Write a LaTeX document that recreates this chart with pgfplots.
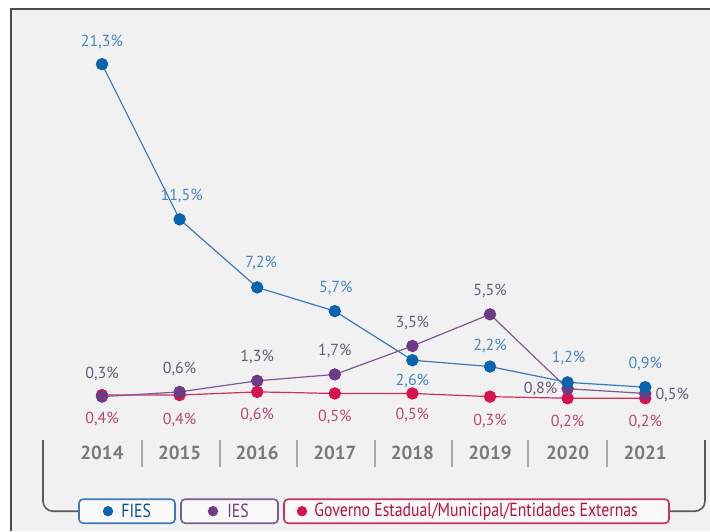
\documentclass[border=0pt]{standalone}
\usepackage{fontspec}
\setmainfont{PT Sans}
\newfontfamily\narrowfont{PT Sans}[FakeStretch=0.83]
\usepackage{pgfplots}
\pgfplotsset{compat=1.18}
\usepackage{pgfplotstable}

\definecolor{bgc}{HTML}{F1F1F1}
\definecolor{fiesc}{HTML}{0A64AD}
\definecolor{fiesline}{HTML}{3D79B8}
\definecolor{fieslab}{HTML}{4A86C0}
\definecolor{iesc}{HTML}{6E3B87}
\definecolor{iesline}{HTML}{7D5A92}
\definecolor{ieslab}{HTML}{6A5A7A}
\definecolor{govc}{HTML}{D4134F}
\definecolor{govline}{HTML}{C8325C}
\definecolor{govlab}{HTML}{B84A6E}
\definecolor{yearc}{HTML}{7A7A7A}
\definecolor{sepc}{HTML}{AAAAAA}
\definecolor{brk}{HTML}{5A5A5A}

% x = year index (2014 = 0), y = percent, ox/oy = label offset in pt
\pgfplotstableread{
x y ox oy
0 21.3 0 11
1 11.5 1 11.5
2 7.2 2 12
3 5.7 0.5 11.5
4 2.6 0 -10.5
5 2.2 0 10.5
6 1.2 0.5 12
7 0.9 0 11.5
}\fies

\pgfplotstableread{
x y ox oy
0 0.3 0 11.5
1 0.6 0 11.5
2 1.3 0 12
3 1.7 0 11.5
4 3.5 0 11.5
5 5.5 0 11.5
6 0.8 -13.5 0
7 0.5 13.5 -1
}\ies

\pgfplotstableread{
x y ox oy
0 0.4 0 -12
1 0.4 0 -12.5
2 0.6 0 -11.5
3 0.5 0 -12
4 0.5 0 -11
5 0.3 0 -12
6 0.2 0 -12
7 0.2 0 -12
}\gov

\pgfplotsset{
  lbl/.style={
    mark=*, mark size=2.8pt, line width=0.6pt,
    point meta=y,
    visualization depends on={\thisrow{ox} \as \offx},
    visualization depends on={\thisrow{oy} \as \offy},
    nodes near coords={\pgfmathprintnumber[fixed,fixed zerofill,precision=1,use comma,assume math mode=true]{\pgfplotspointmeta}\%},
    nodes near coords style={anchor=center, inner sep=0pt, xshift=\offx pt, yshift=\offy pt, font=\fontsize{8}{9}\selectfont, text=#1},
  },
}

\begin{document}
\begin{tikzpicture}
\begin{scope}[shift={(0,265.5pt)}, x=0.5pt, y=-0.5pt]
  \useasboundingbox (0,0) rectangle (710,531);
  \fill[white] (0,0) rectangle (710,531);
  \fill[bgc] (11,9) rectangle (710,531);
  \draw[line width=1pt, black!70] (11,531) -- (11,9) -- (710,9);
  \foreach \sx in {142,220,297,375,452,528,607}
    \draw[sepc, line width=0.6pt] (\sx,440) -- (\sx,467);
  \draw[brk, line width=0.8pt, rounded corners=5pt] (43,440) -- (43,511) -- (79,511);
  \draw[brk, line width=0.8pt, rounded corners=5pt] (669,511) -- (705,511) -- (705,440);
  \draw[draw=fiesline, fill=white!60!bgc, line width=0.8pt, rounded corners=2pt] (79,499) rectangle (175,523);
  \draw[draw=iesline, fill=white!60!bgc, line width=0.8pt, rounded corners=2pt] (181,499) rectangle (278,523);
  \draw[draw=govline, fill=white!60!bgc, line width=0.8pt, rounded corners=2pt] (284,499) rectangle (669,523);
  \fill[fiesc] (108,511) circle (2.6pt);
  \fill[iesc] (213,511) circle (2.6pt);
  \fill[govc] (302,511) circle (2.6pt);
  \node[anchor=west, inner sep=0pt, text=fiesc!80!black, font=\narrowfont\fontsize{9.5}{10}\selectfont] at (121,511) {FIES};
  \node[anchor=west, inner sep=0pt, text=iesc, font=\narrowfont\fontsize{9.5}{10}\selectfont] at (227,511) {IES};
  \node[anchor=west, inner sep=0pt, text=govc!85!black, font=\narrowfont\fontsize{9.5}{10}\selectfont] at (314,511) {Governo Estadual/Municipal/Entidades Externas};
\end{scope}
\begin{axis}[
    at={(0,0)}, anchor=south west,
    scale only axis,
    width=355pt, height=265.5pt,
    xmin=-1.3144, xmax=7.835,
    ymin=-8.20, ymax=25.34,
    axis line style={draw=none},
    major tick length=0pt,
    ytick=\empty,
    xtick={0,...,7},
    xticklabels={2014,2015,2016,2017,2018,2019,2020,2021},
    xticklabel style={anchor=center, yshift=39pt, font=\bfseries\fontsize{9.5}{10}\selectfont, text=yearc},
    clip=false,
]
\addplot[govline, lbl=govlab, mark options={fill=govc, draw=govc}] table[x=x, y=y] {\gov};
\addplot[iesline, lbl=ieslab, mark options={fill=iesc, draw=iesc}] table[x=x, y=y] {\ies};
\addplot[fiesline, lbl=fieslab, mark options={fill=fiesc, draw=fiesc}] table[x=x, y=y] {\fies};
\end{axis}
\end{tikzpicture}
\end{document}
